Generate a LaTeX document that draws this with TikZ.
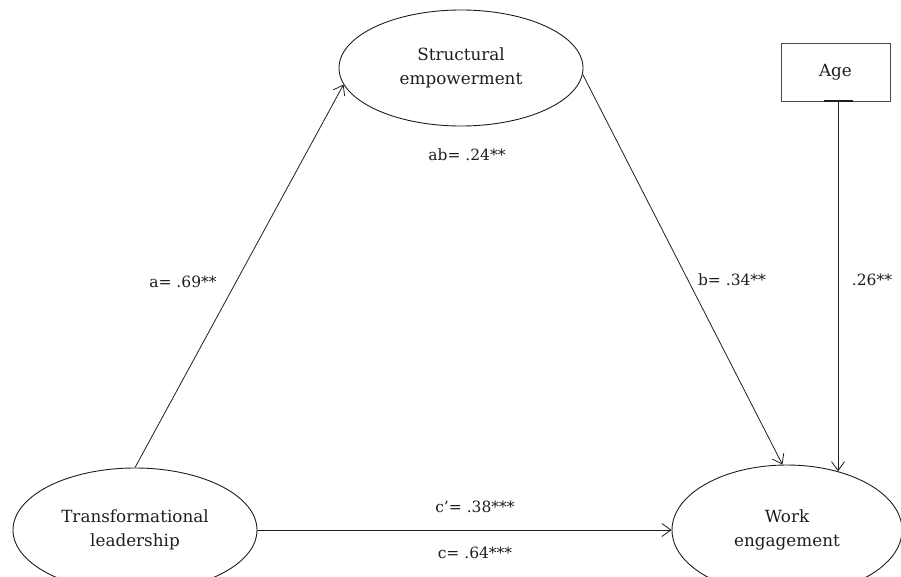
\documentclass[tikz,border=0pt]{standalone}
\usepackage{fontspec}
\setmainfont{DejaVu Serif}
\usetikzlibrary{shapes.geometric,arrows.meta}
\definecolor{ink}{HTML}{1E1E1E}
\tikzset{
  oval/.style={ellipse,draw=ink,line width=0.9pt,inner sep=0pt,align=center,text=ink,font=\fontsize{16.8}{24}\selectfont},
  boxnode/.style={rectangle,draw=ink!80,line width=0.9pt,inner sep=0pt,align=center,text=ink,font=\fontsize{16.8}{24}\selectfont},
  lbl/.style={text=ink,font=\fontsize{15.5}{18}\selectfont,inner sep=0pt},
  arr/.style={draw=ink,line width=0.8pt,-{Straight Barb[length=9pt,width=13pt,line width=0.8pt]}}
}
\begin{document}
\begin{tikzpicture}[x=1pt,y=-1pt]
\useasboundingbox (0,0) rectangle (901,577);
\node[oval,minimum width=244pt,minimum height=116pt] (SE) at (461,68) {Structural\\empowerment};
\node[oval,minimum width=244pt,minimum height=124pt] (TL) at (135,530) {Transformational\\leadership};
\node[oval,minimum width=230pt,minimum height=130pt] (WE) at (787,530) {Work\\engagement};
\node[boxnode,minimum width=109pt,minimum height=58pt] (Age) at (835.5,72) {Age};
\draw[arr] (TL.north) -- (SE.188);
\draw[arr] (SE.-3) -- (WE.94);
\draw[arr] (TL.east) -- (WE.west);
\draw[arr] (Age.south -| WE.49) -- (WE.49);
\draw[draw=ink,line width=2pt] ([xshift=-11.5pt]Age.south) -- ([xshift=17.5pt]Age.south);
\node[lbl] (lab) at (467,155) {ab= .24**};
\node[lbl] (la) at (183,282) {a= .69**};
\node[lbl] (lb) at (732,280) {b= .34**};
\node[lbl] (lage) at (872,280) {.26**};
\node[lbl] (lcp) at (475,507) {c’= .38***};
\node[lbl] (lc) at (475,553) {c= .64***};
\end{tikzpicture}
\end{document}
